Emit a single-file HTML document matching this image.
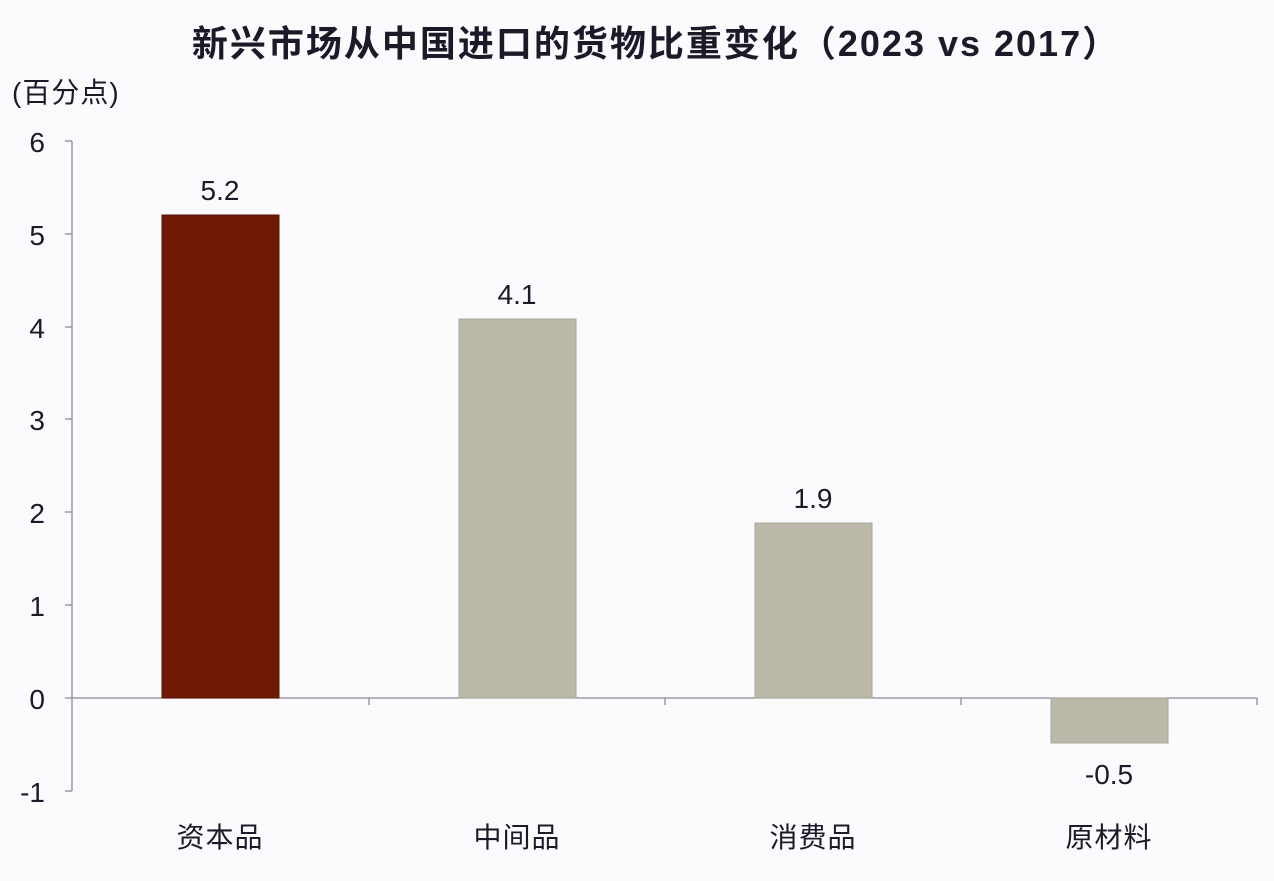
<!DOCTYPE html>
<html><head><meta charset="utf-8"><style>
html,body{margin:0;padding:0;background:#fbfbfd;}
svg text{font-family:"Liberation Sans","Noto Sans CJK SC",sans-serif;fill:#1c1a28;}
</style></head><body>
<svg width="1274" height="876" viewBox="0 0 1274 876" xmlns="http://www.w3.org/2000/svg">
<rect width="1274" height="876" fill="#fbfbfd"/>
<text x="656" y="56" font-size="36" font-weight="bold" text-anchor="middle" letter-spacing="2">新兴市场从中国进口的货物比重变化（2023 vs 2017）</text>
<text x="12" y="102" font-size="28" letter-spacing="1">(百分点)</text>
<g stroke="#8a8a95" stroke-width="1.3" fill="none">
<line x1="72" y1="141" x2="72" y2="791"/>
<line x1="65" y1="141" x2="72" y2="141"/>
<line x1="65" y1="234" x2="72" y2="234"/>
<line x1="65" y1="327" x2="72" y2="327"/>
<line x1="65" y1="419" x2="72" y2="419"/>
<line x1="65" y1="512" x2="72" y2="512"/>
<line x1="65" y1="605" x2="72" y2="605"/>
<line x1="65" y1="698" x2="1257" y2="698"/>
<line x1="65" y1="791" x2="72" y2="791"/>
<line x1="369" y1="698" x2="369" y2="705"/>
<line x1="665" y1="698" x2="665" y2="705"/>
<line x1="961" y1="698" x2="961" y2="705"/>
<line x1="1257" y1="698" x2="1257" y2="705"/>
</g>
<g font-size="28" text-anchor="end">
<text x="45" y="152">6</text>
<text x="45" y="245">5</text>
<text x="45" y="338">4</text>
<text x="45" y="430">3</text>
<text x="45" y="523">2</text>
<text x="45" y="616">1</text>
<text x="45" y="709">0</text>
<text x="45" y="802">-1</text>
</g>
<rect x="162" y="215" width="117" height="483" fill="#6e1a05" stroke="#5a1404" stroke-width="1"/>
<rect x="459" y="319" width="117" height="379" fill="#bcb9aa" stroke="#a9a697" stroke-width="1"/>
<rect x="755" y="523" width="117" height="175" fill="#bcb9aa" stroke="#a9a697" stroke-width="1"/>
<rect x="1051" y="698" width="117" height="45" fill="#bcb9aa" stroke="#a9a697" stroke-width="1"/>
<g font-size="28" text-anchor="middle">
<text x="220" y="200">5.2</text>
<text x="517" y="304">4.1</text>
<text x="813" y="508">1.9</text>
<text x="1109" y="784">-0.5</text>
<text x="220" y="847" letter-spacing="1">资本品</text>
<text x="517" y="847" letter-spacing="1">中间品</text>
<text x="813" y="847" letter-spacing="1">消费品</text>
<text x="1109" y="847" letter-spacing="1">原材料</text>
</g>
</svg>
</body></html>
